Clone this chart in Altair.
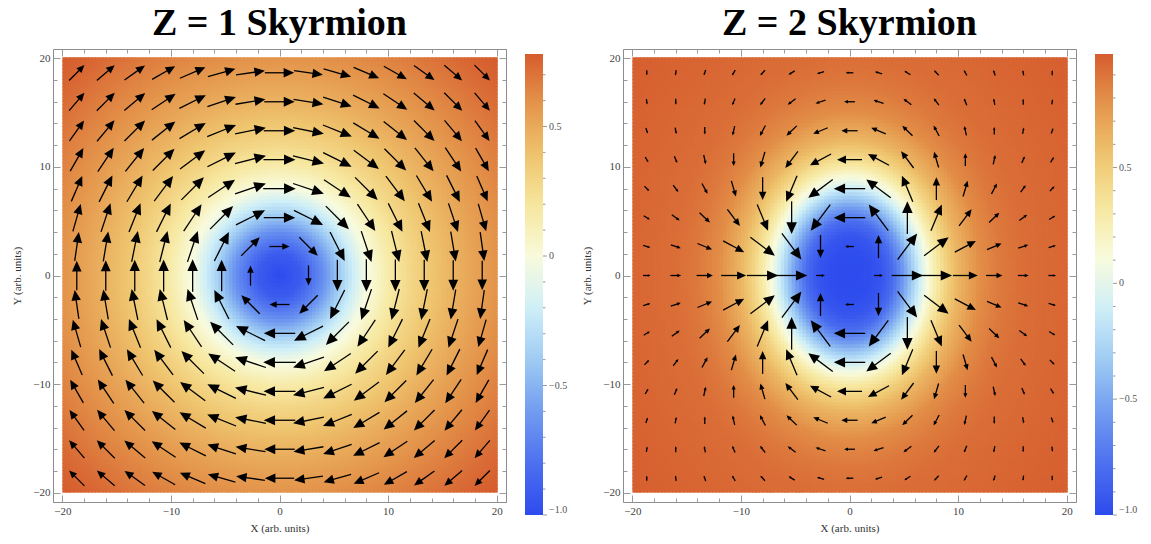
import numpy as np
import pandas as pd
import altair as alt

# ---------------- values ----------------
TITLES = ["Z = 1 Skyrmion", "Z = 2 Skyrmion"]
ARROW_GRID = [-18.67, -16.0, -13.33, -10.67, -8.0, -5.33, -2.67, 0.0,
              2.67, 5.33, 8.0, 10.67, 13.33, 16.0, 18.67]
MAJOR_TICKS = [-20, -10, 0, 10, 20]
MINOR_TICKS = [-18, -16, -14, -12, -8, -6, -4, -2, 2, 4, 6, 8, 12, 14, 16, 18]
CBAR_TICKS = [-1.0, -0.5, 0.0, 0.5]
CBAR_MINOR_Z1 = [-0.9, -0.8, -0.7, -0.6, -0.4, -0.3, -0.2, -0.1,
                 0.1, 0.2, 0.3, 0.4, 0.6, 0.7]
CBAR_MINOR_Z2 = [-0.9, -0.8, -0.7, -0.6, -0.4, -0.3, -0.2, -0.1,
                 0.1, 0.2, 0.3, 0.4, 0.6, 0.7, 0.8, 0.9]

# Z = 1: out-of-plane component vs radius, arrow length vs radius
Z1_MZ_R = [0, 2, 4, 6, 8, 10, 12, 14, 16, 18, 20, 22, 24, 26, 28.3]
Z1_MZ = [-1.0, -0.91, -0.66, -0.32, -0.03, 0.15, 0.28, 0.38, 0.46, 0.53,
         0.59, 0.64, 0.69, 0.74, 0.78]
Z1_LEN_R = [0, 2.67, 3.77, 5.33, 5.96, 7.54, 8.0, 10.67, 13.33, 16.0, 18.67, 22.0, 26.4]
Z1_LEN = [0, 1.85, 2.4, 2.9, 3.0, 3.0, 3.0, 2.95, 2.9, 2.8, 2.7, 2.4, 2.0]
Z1_WINDING = 1
Z1_PHASE = -90.0
Z1_Y_STRETCH = 1.0
Z1_RANGE = [-1.0, 0.78]

# Z = 2
Z2_MZ_R = [0, 2, 3, 4, 5, 6, 7, 8, 9, 10, 12, 14, 16, 20, 24, 29]
Z2_MZ = [-1.0, -0.98, -0.93, -0.8, -0.55, -0.25, 0.05, 0.3, 0.48, 0.62,
         0.8, 0.88, 0.92, 0.95, 0.97, 0.99]
Z2_LEN_R = [0, 2.67, 3.77, 5.33, 5.96, 7.54, 8.0, 9.6, 10.67, 12.0, 13.33, 16.0, 18.67, 22.0, 26.4]
Z2_LEN = [0, 0.8, 2.1, 2.9, 3.0, 3.0, 2.9, 2.6, 2.3, 1.9, 1.5, 1.0, 0.7, 0.55, 0.45]
Z2_WINDING = 2
Z2_PHASE = 0.0
Z2_Y_STRETCH = 1.25
Z2_RANGE = [-1.0, 0.99]

TEMP_COLORS = ["#2d4bee", "#4d70ef", "#719bf0", "#9dcaf3", "#cdeef8",
               "#f8fbde", "#f7e8a0", "#efc56f", "#e4964c", "#d65c2e"]

# ---------------- layout ----------------
W = 453
H = 453
DOM = [-20.86, 20.86]
PPU = W / (DOM[1] - DOM[0])
NCELL = 120
SERIF = "Liberation Serif"
CB_X = W + 19        # colour bar left edge (px from plot left)
CB_Y = 5             # colour bar top (px from plot top)
CB_LEN = 461
CB_THICK = 18


def heat_frame(mz_r, mz, stretch):
    edges = np.linspace(-20, 20, NCELL + 1)
    step = edges[1] - edges[0]
    rows = []
    for xi in edges[:-1]:
        for yi in edges[:-1]:
            xc, yc = xi + step / 2, yi + step / 2
            r = np.hypot(xc, yc / stretch)
            rows.append((round(xi, 3), round(yi, 3), round(float(np.interp(r, mz_r, mz)), 4)))
    return pd.DataFrame(rows, columns=["x", "y", "v"]), step


def arrow_frame(len_r, lens, winding, phase):
    rows = []
    for gx in ARROW_GRID:
        for gy in ARROW_GRID:
            r = np.hypot(gx, gy)
            L = float(np.interp(r, len_r, lens))
            if L <= 0.01:
                continue
            a = winding * np.arctan2(gy, gx) + np.radians(phase)
            ux, uy = np.cos(a), np.sin(a)
            hl_px = 0.36 * L * PPU
            hl = hl_px / PPU
            x0, y0 = gx - L / 2 * ux, gy - L / 2 * uy
            tx, ty = gx + L / 2 * ux, gy + L / 2 * uy
            x1, y1 = tx - 0.6 * hl * ux, ty - 0.6 * hl * uy
            ang = (-np.degrees(a)) % 360
            rows.append(dict(x0=x0, y0=y0, x1=x1, y1=y1, tx=tx, ty=ty,
                             ang=round(ang, 2), hs=round(hl_px ** 2, 2)))
    return pd.DataFrame(rows).round(4)


def sc():
    return alt.Scale(domain=DOM, nice=False, zero=False)


def ax(orient, major, labels=False, title=None, tpad=0):
    kw = dict(orient=orient, values=MAJOR_TICKS if major else MINOR_TICKS,
              offset=-7 if major else -4, tickSize=7 if major else 4,
              domain=False, grid=False, labels=labels, labelFlush=False,
              labelPadding=3, title=title)
    if title is not None:
        kw["titlePadding"] = tpad
    return alt.Axis(**kw)


def panel(title, mz_r, mz, stretch, len_r, lens, winding, phase, crange, cminor):
    hdf, step = heat_frame(mz_r, mz, stretch)
    adf = arrow_frame(len_r, lens, winding, phase)
    ov = step + 0.1
    heat = alt.Chart(hdf).mark_rect(strokeWidth=0).transform_calculate(
        x2=f"datum.x + {ov}", y2=f"datum.y + {ov}"
    ).encode(
        x=alt.X("x:Q", scale=sc(), axis=ax("bottom", True, True, "X (arb. units)", 6)),
        x2="x2:Q",
        y=alt.Y("y:Q", scale=sc(), axis=ax("left", True, True, "Y (arb. units)", 10)),
        y2="y2:Q",
        color=alt.Color("v:Q",
                        scale=alt.Scale(domain=crange, range=TEMP_COLORS, interpolate="rgb"),
                        legend=alt.Legend(orient="none", legendX=CB_X, legendY=CB_Y,
                                          direction="vertical", gradientLength=CB_LEN,
                                          gradientThickness=CB_THICK, values=CBAR_TICKS,
                                          title=None, labelFont=SERIF, labelFontSize=10,
                                          labelColor="#555", labelOffset=6,
                                          labelBaseline="middle",
                                          gradientStrokeWidth=0,
                                          labelExpr="datum.value == -1 ? '\u22121.0' : (datum.value == 0 ? '0' : datum.label)")),
    )
    shafts = alt.Chart(adf).mark_rule(color="black", strokeWidth=1.3).encode(
        x=alt.X("x0:Q", scale=sc(), axis=ax("bottom", False)),
        x2="x1:Q",
        y=alt.Y("y0:Q", scale=sc(), axis=ax("left", False)),
        y2="y1:Q",
    )
    heads = alt.Chart(adf).mark_point(
        shape="M0,0L-2,-0.9L-2,0.9Z", filled=True, color="black", opacity=1, strokeWidth=0
    ).encode(
        x=alt.X("tx:Q", scale=sc(), axis=ax("top", True)),
        y=alt.Y("ty:Q", scale=sc(), axis=ax("right", True)),
        angle=alt.Angle("ang:Q", scale=None),
        size=alt.Size("hs:Q", scale=None),
    )
    dummy = alt.Chart(adf).mark_point(opacity=0).encode(
        x=alt.X("tx:Q", scale=sc(), axis=ax("top", False)),
        y=alt.Y("ty:Q", scale=sc(), axis=ax("right", False)),
    )
    # colour-bar tick marks (major at labelled values, minor every 0.1)
    tdf = pd.DataFrame({"t": CBAR_TICKS + cminor,
                        "len": [4.0] * len(CBAR_TICKS) + [2.5] * len(cminor)})
    cb_scale = alt.Scale(domain=crange, range=[CB_Y + CB_LEN, CB_Y], nice=False, zero=False)
    cbticks = alt.Chart(tdf).mark_rule(color="#9a9a9a", strokeWidth=1).transform_calculate(
        xa=f"{CB_X + CB_THICK}", xb=f"{CB_X + CB_THICK} + datum.len"
    ).encode(
        x=alt.X("xa:Q", scale=None, axis=None),
        x2="xb:Q",
        y=alt.Y("t:Q", scale=cb_scale, axis=None),
    )
    return alt.layer(heat, shafts, heads, dummy, cbticks).resolve_axis(
        x="independent", y="independent"
    ).resolve_scale(
        x="independent", y="independent"
    ).properties(
        width=W, height=H,
        title=alt.TitleParams(title, font=SERIF, fontSize=38, fontWeight="bold",
                              color="black", anchor="middle", offset=-24,
                              baseline="alphabetic"),
    )


p1 = panel(TITLES[0], Z1_MZ_R, Z1_MZ, Z1_Y_STRETCH, Z1_LEN_R, Z1_LEN,
           Z1_WINDING, Z1_PHASE, Z1_RANGE, CBAR_MINOR_Z1)
p2 = panel(TITLES[1], Z2_MZ_R, Z2_MZ, Z2_Y_STRETCH, Z2_LEN_R, Z2_LEN,
           Z2_WINDING, Z2_PHASE, Z2_RANGE, CBAR_MINOR_Z2)

chart = alt.hconcat(p1, p2, spacing=117, bounds="flush").resolve_scale(
    x="independent", y="independent", color="independent"
).resolve_legend(color="independent").configure_view(
    stroke="#8c8c8c", strokeWidth=1
).configure_axis(
    tickColor="#9a9a9a", tickWidth=1, labelFont=SERIF, labelFontSize=11,
    labelColor="#444", titleFont=SERIF, titleFontSize=11, titleFontWeight="normal",
    titleColor="#333"
).properties(background="white",
             padding={"left": 3, "top": -4, "right": 2, "bottom": 2})

chart.save("out.html", embed_options={"renderer": "svg", "actions": False})
